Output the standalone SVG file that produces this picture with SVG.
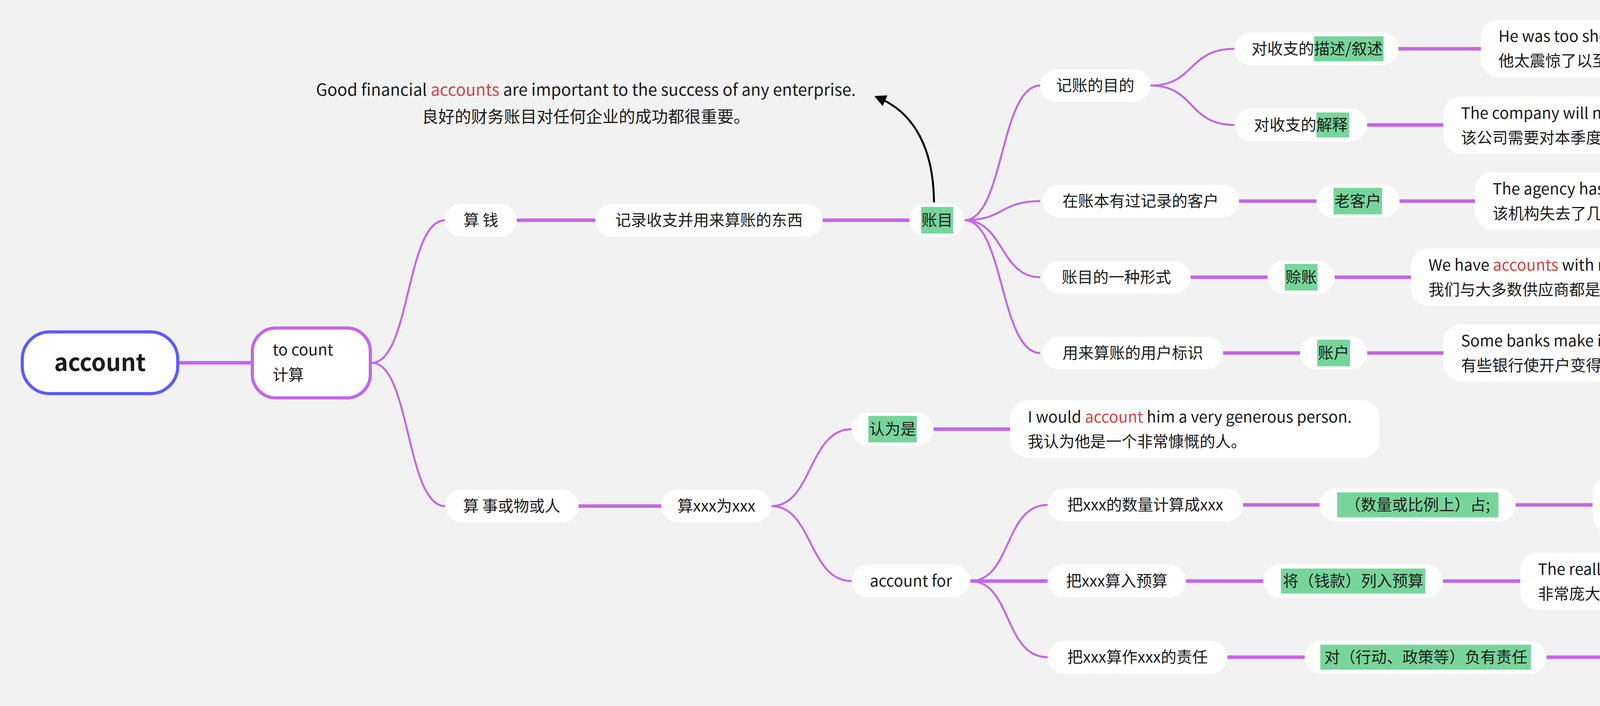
<svg xmlns="http://www.w3.org/2000/svg" width="5530" height="1808" viewBox="0 0 5530 1808">
<style>
text{font-family:"Noto Sans CJK SC","Noto Sans",sans-serif;font-size:40px;fill:#1a1a1a}
.c{text-anchor:middle}
.r{fill:#d9453b}
.n{fill:#fff}
.h{fill:#77d59b}
.k{fill:none;stroke:#c465e8;stroke-width:5}
.kh{fill:none;stroke:#c465e8;stroke-width:9}
.ex{font-size:42px}
</style>
<defs><marker id="ah" viewBox="0 0 10 10" refX="5" refY="5" markerWidth="6" markerHeight="6" orient="auto"><path d="M0,0L10,5L0,10z" fill="#000"/></marker></defs>
<rect width="5530" height="1808" fill="#f2f2f2"/>
<g id="connectors">
<path class="kh" d="M459 929H642"/>
<path class="k" d="M952 929C1050 929 1040 564 1139 564"/>
<path class="k" d="M952 929C1050 929 1040 1296 1139 1296"/>
<path class="kh" d="M1323 564H1524M2106 564H2328"/>
<path class="k" d="M2469 564C2570 564 2560 219 2663 219M2469 564C2570 564 2560 515 2663 515M2469 564C2570 564 2560 710 2663 710M2469 564C2570 564 2560 904 2663 904"/>
<path class="k" d="M2945 219C3060 219 3040 125 3160 125M2945 219C3060 219 3040 320 3160 320"/>
<path class="kh" d="M3580 125H3791M3500 320H3695M3172 515H3370M3583 515H3776M3048 710H3245M3417 710H3612M3131 904H3328M3500 904H3695"/>
<path class="kh" d="M1481 1296H1693M2390 1099H2586M2484 1488H2682M3182 1293H3378M3880 1293H4077M3036 1488H3234M3694 1488H3892M3142 1683H3340M3959 1683H4162"/>
<path class="k" d="M1975 1296C2080 1296 2070 1099 2180 1099M1975 1296C2080 1296 2070 1488 2180 1488"/>
<path class="k" d="M2484 1488C2590 1488 2570 1293 2682 1293M2484 1488C2590 1488 2570 1683 2682 1683"/>
<path d="M2391 518C2390 380 2340 290 2252 252" fill="none" stroke="#000" stroke-width="5" marker-end="url(#ah)"/>
</g>
<g id="example"><text class="c ex" x="1500" y="245">Good financial <tspan class="r">accounts</tspan> are important to the success of any enterprise.</text><text class="c ex" x="1500" y="314">良好的财务账目对任何企业的成功都很重要。</text></g>
<g id="root"><rect x="57" y="850" width="398" height="158" rx="70" fill="#fff" stroke="#5b5bff" stroke-width="8"/><text class="c" x="256" y="950" style="font-size:60px;font-weight:bold">account</text></g>
<g id="tocount"><rect x="646" y="840" width="302" height="179" rx="60" fill="#fff" stroke="#c465e8" stroke-width="8"/><text x="698" y="910">to count</text><text x="698" y="974">计算</text></g>
<g id="suanqian"><rect class="n" x="1139" y="522" width="184" height="84" rx="42"/><text class="c" x="1231" y="578">算 钱</text></g>
<g id="jilu"><rect class="n" x="1524" y="522" width="582" height="84" rx="42"/><text class="c" x="1815" y="578">记录收支并用来算账的东西</text></g>
<g id="zhangmu"><rect class="n" x="2328" y="522" width="141" height="84" rx="42"/><rect class="h" x="2358" y="530" width="82" height="68"/><text class="c" x="2399" y="578">账目</text></g>
<g id="mudi"><rect class="n" x="2663" y="177" width="282" height="84" rx="42"/><text class="c" x="2804" y="233">记账的目的</text></g>
<g id="miaoshu"><rect class="n" x="3160" y="83" width="420" height="84" rx="42"/><rect class="h" x="3364" y="93" width="178" height="64"/><text x="3204" y="139">对收支的描述/叙述</text></g>
<g id="jieshi"><rect class="n" x="3160" y="278" width="340" height="84" rx="42"/><rect class="h" x="3370" y="288" width="84" height="64"/><text x="3210" y="334">对收支的解释</text></g>
<g id="s1"><rect class="n" x="3791" y="50" width="1288" height="147" rx="45"/><text x="3836" y="107">He was too shocked to give an <tspan class="r">account</tspan> of what had happened.</text><text x="3836" y="170">他太震惊了以至于不能对所发生的事情作出描述。</text></g>
<g id="s2"><rect class="n" x="3695" y="247" width="1451" height="147" rx="45"/><text x="3740" y="304">The company will need to <tspan class="r">account</tspan> for the increase in sales this quarter.</text><text x="3740" y="367">该公司需要对本季度销售额的增长作出解释。</text></g>
<g id="kehu"><rect class="n" x="2669" y="473" width="503" height="84" rx="42"/><text class="c" x="2920" y="529">在账本有过记录的客户</text></g>
<g id="laokehu"><rect class="n" x="3370" y="473" width="213" height="84" rx="42"/><rect class="h" x="3414" y="481" width="124" height="68"/><text class="c" x="3476" y="529">老客户</text></g>
<g id="s3"><rect class="n" x="3776" y="441" width="1224" height="147" rx="45"/><text x="3821" y="498">The agency has lost several of its most important <tspan class="r">accounts</tspan>.</text><text x="3821" y="561">该机构失去了几个最重要的账户。</text></g>
<g id="xingshi"><rect class="n" x="2669" y="668" width="379" height="84" rx="42"/><text class="c" x="2858" y="724">账目的一种形式</text></g>
<g id="shezhang"><rect class="n" x="3245" y="668" width="172" height="84" rx="42"/><rect class="h" x="3289" y="676" width="84" height="68"/><text class="c" x="3331" y="724">赊账</text></g>
<g id="s4"><rect class="n" x="3612" y="636" width="957" height="147" rx="45"/><text x="3657" y="693">We have <tspan class="r">accounts</tspan> with most of our suppliers.</text><text x="3657" y="756">我们与大多数供应商都是实行赊购制。</text></g>
<g id="biaoshi"><rect class="n" x="2669" y="862" width="462" height="84" rx="42"/><text class="c" x="2900" y="918">用来算账的用户标识</text></g>
<g id="zhanghu"><rect class="n" x="3328" y="862" width="172" height="84" rx="42"/><rect class="h" x="3372" y="870" width="84" height="68"/><text class="c" x="3414" y="918">账户</text></g>
<g id="s5"><rect class="n" x="3695" y="830" width="1026" height="147" rx="45"/><text x="3740" y="887">Some banks make it difficult to open an <tspan class="r">account</tspan>.</text><text x="3740" y="950">有些银行使开户变得困难</text></g>
<g id="shi"><rect class="n" x="1139" y="1254" width="342" height="84" rx="42"/><text class="c" x="1310" y="1310">算 事或物或人</text></g>
<g id="suanwei"><rect class="n" x="1693" y="1254" width="282" height="84" rx="42"/><text class="c" x="1834" y="1310">算xxx为xxx</text></g>
<g id="renwei"><rect class="n" x="2180" y="1057" width="210" height="84" rx="42"/><rect class="h" x="2223" y="1065" width="124" height="68"/><text class="c" x="2285" y="1113">认为是</text></g>
<g id="s6"><rect class="n" x="2586" y="1025" width="946" height="147" rx="45"/><text x="2631" y="1082">I would <tspan class="r">account</tspan> him a very generous person.</text><text x="2631" y="1145">我认为他是一个非常慷慨的人。</text></g>
<g id="acfor"><rect class="n" x="2180" y="1446" width="304" height="84" rx="42"/><text class="c" x="2332" y="1502">account for</text></g>
<g id="shuliang"><rect class="n" x="2682" y="1251" width="500" height="84" rx="42"/><text class="c" x="2932" y="1307">把xxx的数量计算成xxx</text></g>
<g id="zhan"><rect class="n" x="3378" y="1251" width="502" height="84" rx="42"/><rect class="h" x="3423" y="1261" width="413" height="64"/><text class="c" x="3629" y="1307">（数量或比例上）占;</text></g>
<g id="s7"><rect class="n" x="4077" y="1220" width="1184" height="147" rx="45"/><text x="4122" y="1277">It should at least <tspan class="r">account for</tspan> 50% of the total investment.</text><text x="4122" y="1340">它至少占了投资总额的50%。</text></g>
<g id="yusuan"><rect class="n" x="2682" y="1446" width="354" height="84" rx="42"/><text class="c" x="2859" y="1502">把xxx算入预算</text></g>
<g id="lieru"><rect class="n" x="3234" y="1446" width="460" height="84" rx="42"/><rect class="h" x="3279" y="1456" width="370" height="64"/><text class="c" x="3464" y="1502">将（钱款）列入预算</text></g>
<g id="s8"><rect class="n" x="3892" y="1415" width="1239" height="147" rx="45"/><text x="3937" y="1472">The really heavy redundancy costs have been <tspan class="r">accounted for</tspan>.</text><text x="3937" y="1535">非常庞大的裁员开支已被列入预算。</text></g>
<g id="zeren"><rect class="n" x="2682" y="1641" width="460" height="84" rx="42"/><text class="c" x="2912" y="1697">把xxx算作xxx的责任</text></g>
<g id="fuze"><rect class="n" x="3340" y="1641" width="619" height="84" rx="42"/><rect class="h" x="3380" y="1651" width="539" height="64"/><text class="c" x="3650" y="1697">对（行动、政策等）负有责任</text></g>
<g id="s9"><rect class="n" x="4162" y="1610" width="1318" height="147" rx="45"/><text x="4207" y="1667">The President alone must <tspan class="r">account for</tspan> his government's reforms.</text><text x="4207" y="1730">总统必须为他的政府改革负责，而且是负全责。</text></g>
</svg>
